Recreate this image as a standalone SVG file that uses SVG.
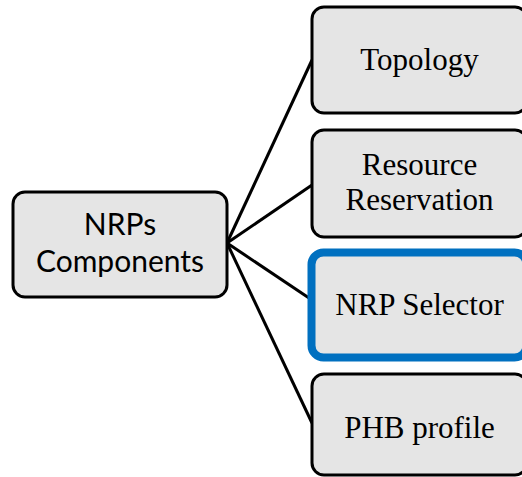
<svg xmlns="http://www.w3.org/2000/svg" width="522" height="477" viewBox="0 0 522 477">
<style>
.box{fill:#e5e5e5;stroke:#000;stroke-width:3}
.sel{fill:#e5e5e5;stroke:#0070c0;stroke-width:8}
.serif{font-family:"Liberation Serif","Times New Roman",serif;font-size:31px;fill:#000;text-anchor:middle}
.sans{font-family:Lato,Carlito,"Liberation Sans",sans-serif;font-size:30px;fill:#000;text-anchor:middle}
.conn{stroke:#000;stroke-width:3;fill:none}
</style>
<rect width="522" height="477" fill="#fff"/>
<g id="connectors">
<line class="conn" x1="227" y1="243" x2="312" y2="60"/>
<line class="conn" x1="227" y1="243" x2="312" y2="185"/>
<line class="conn" x1="227" y1="243" x2="312" y2="300"/>
<line class="conn" x1="227" y1="243" x2="312" y2="423"/>
</g>
<g id="nrps">
<rect class="box" x="13" y="192" width="214" height="105" rx="12"/>
<text class="sans" x="120" y="235">NRPs</text>
<text class="sans" x="120" y="272">Components</text>
</g>
<g id="topology">
<rect class="box" x="312" y="7" width="215" height="106" rx="12"/>
<text class="serif" x="419.5" y="70">Topology</text>
</g>
<g id="resource">
<rect class="box" x="312" y="130" width="215" height="107" rx="12"/>
<text class="serif" x="419.5" y="175">Resource</text>
<text class="serif" x="419.5" y="210">Reservation</text>
</g>
<g id="selector">
<rect class="sel" x="311.5" y="252.5" width="215" height="105" rx="12"/>
<text class="serif" x="419.5" y="315">NRP Selector</text>
</g>
<g id="phb">
<rect class="box" x="312" y="374" width="215" height="101" rx="12"/>
<text class="serif" x="419.5" y="438">PHB profile</text>
</g>
</svg>
